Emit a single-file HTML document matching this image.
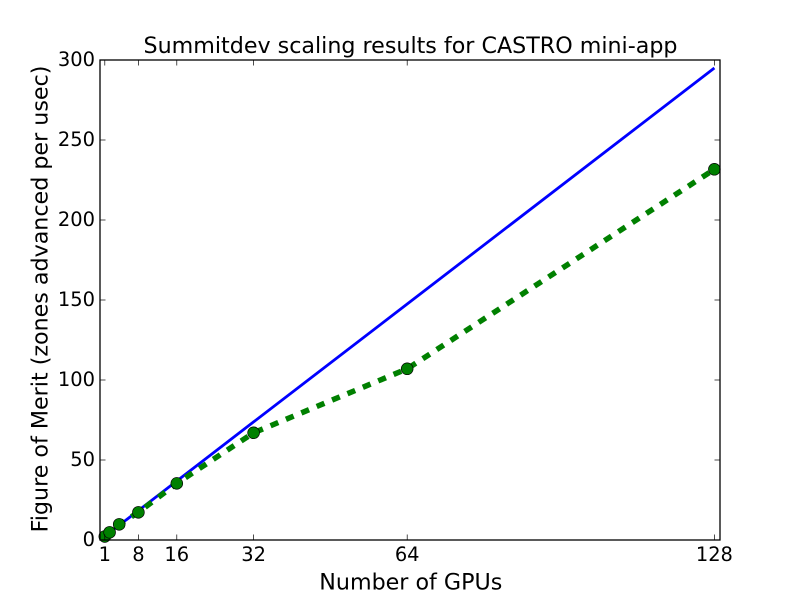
<!DOCTYPE html>
<html>
<head>
<meta charset="utf-8">
<title>Summitdev scaling results for CASTRO mini-app</title>
<style>
html,body{margin:0;padding:0;background:#fff}
svg{display:block}
text{font-family:"DejaVu Sans","Liberation Sans",sans-serif;fill:#000}
</style>
</head>
<body>
<svg id="chart" xmlns="http://www.w3.org/2000/svg" width="800" height="600" viewBox="0 0 800 600">
<rect x="0" y="0" width="800" height="600" fill="#fff"/>
<g id="series"></g>
<g id="ticks"></g>
<rect x="100" y="60" width="620" height="480" fill="none" stroke="#000" stroke-width="1.3"/>
<text x="410.500" y="53" font-size="22.2" text-anchor="middle">Summitdev scaling results for CASTRO mini-app</text>
<text x="410.800" y="589.300" font-size="22.2" text-anchor="middle">Number of GPUs</text>
<text transform="translate(47.500,299) rotate(-90)" font-size="22.2" text-anchor="middle">Figure of Merit (zones advanced per usec)</text>
</svg>
<script>
var gpus = [1, 2, 4, 8, 16, 32, 64, 128];
var idealValues = [2.3, 4.6, 9.2, 18.4, 36.9, 73.8, 147.5, 295];
var measuredValues = [2.2, 4.8, 9.8, 17.3, 35.4, 67, 107, 231.7];
var xTicks = [1, 8, 16, 32, 64, 128];
var yTicks = [0, 50, 100, 150, 200, 250, 300];
var xDomain = [0, 129.17];
var yDomain = [0, 300];

var NS = 'http://www.w3.org/2000/svg';
var left = 100, right = 720, top_ = 60, bottom = 540;
function xScale(v) { return left + (v - xDomain[0]) / (xDomain[1] - xDomain[0]) * (right - left); }
function yScale(v) { return bottom - (v - yDomain[0]) / (yDomain[1] - yDomain[0]) * (bottom - top_); }
function make(tag, attrs) {
  var el = document.createElementNS(NS, tag);
  for (var k in attrs) el.setAttribute(k, attrs[k]);
  return el;
}
function points(values) {
  return values.map(function (v, i) { return xScale(gpus[i]) + ',' + yScale(v); }).join(' ');
}
var series = document.getElementById('series');
var ticks = document.getElementById('ticks');

var idealLine = make('polyline', { points: points(idealValues), fill: 'none', stroke: '#0000ff', 'stroke-width': 2.8 });


series.appendChild(idealLine);

var measuredLine = make('polyline', { points: points(measuredValues), fill: 'none', stroke: '#008000', 'stroke-width': 5.5, 'stroke-dasharray': '8.33 8.33' });


series.appendChild(measuredLine);

measuredValues.forEach(function (v, i) {
  var c = make('circle', { cx: xScale(gpus[i]), cy: yScale(v), r: 5.9, fill: '#008000', stroke: '#000', 'stroke-width': 0.7 });
  
  
  series.appendChild(c);
});

xTicks.forEach(function (v) {
  var x = xScale(v);
  var b = make('line', { x1: x, x2: x, y1: bottom, y2: bottom - 5.5, stroke: '#000', 'stroke-width': 0.7 });
  
  
  ticks.appendChild(b);
  var t = make('line', { x1: x, x2: x, y1: top_, y2: top_ + 5.5, stroke: '#000', 'stroke-width': 0.7 });
  
  
  ticks.appendChild(t);
  var label = make('text', { x: x, y: 561, 'font-size': 19.44, 'text-anchor': 'middle' });
  
  
  label.textContent = String(v);
  ticks.appendChild(label);
});

yTicks.forEach(function (v) {
  var y = yScale(v);
  var l = make('line', { x1: left, x2: left + 5.5, y1: y, y2: y, stroke: '#000', 'stroke-width': 0.7 });
  
  
  ticks.appendChild(l);
  var r = make('line', { x1: right, x2: right - 5.5, y1: y, y2: y, stroke: '#000', 'stroke-width': 0.7 });
  
  
  ticks.appendChild(r);
  var label = make('text', { x: 95, y: y + 6, 'font-size': 19.44, 'text-anchor': 'end' });
  
  
  label.textContent = String(v);
  ticks.appendChild(label);
});
</script>
</body>
</html>
